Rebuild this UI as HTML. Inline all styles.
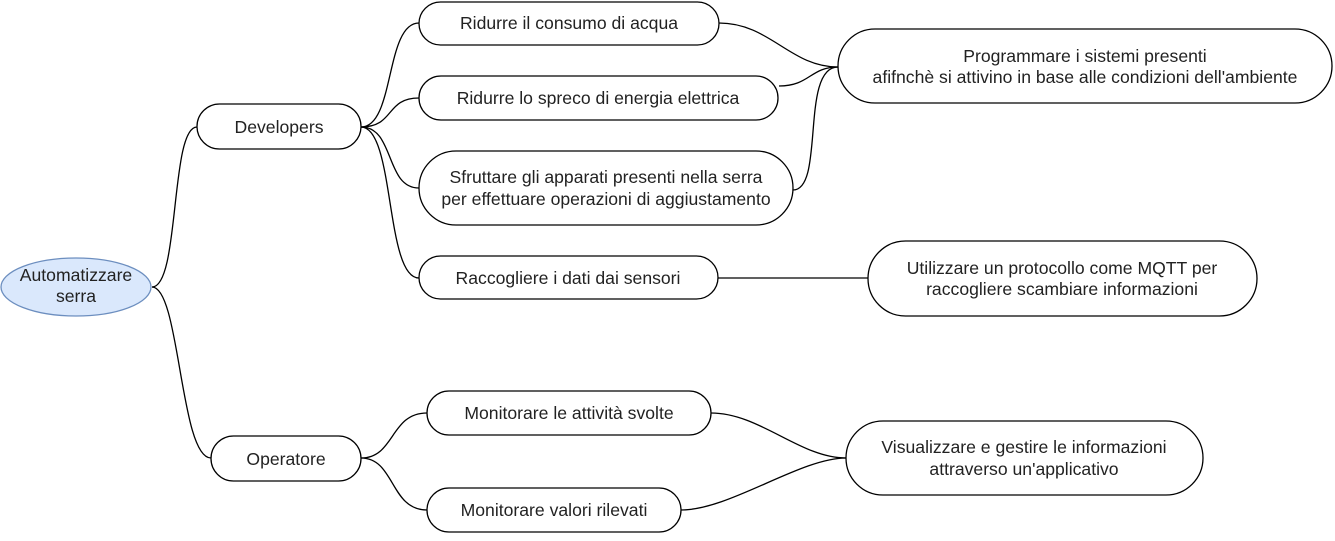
<!DOCTYPE html>
<html><head><meta charset="utf-8"><style>
body{margin:0;background:#fff}
svg text{font-family:"Liberation Sans",Arial,sans-serif;font-size:17.6px;fill:#222;text-anchor:middle}
</style></head><body>
<svg width="1335" height="536" viewBox="0 0 1335 536" xmlns="http://www.w3.org/2000/svg">
<g fill="none" stroke="#000" stroke-width="1.3">
<path d="M152,287 C180,287 170,127 197,127"/>
<path d="M152,287 C180,287 180,458 211,458"/>
<path d="M361,127 C395,127 385,23 419,23"/>
<path d="M361,127 C395,127 385,98 419,98"/>
<path d="M361,127 C395,127 385,188 419,188"/>
<path d="M361,127 C395,127 385,278 419,278"/>
<path d="M361,458 C395,458 390,413 427,413"/>
<path d="M361,458 C395,458 390,510 427,510"/>
<path d="M719,23 C770,23 790,67 838,67"/>
<path d="M779,86 C810,86 810,67 838,67"/>
<path d="M793,190 C825,190 800,67 838,67"/>
<path d="M718,278 L868,278"/>
<path d="M711,413 C760,413 800,458 846,458"/>
<path d="M681,510 C730,510 800,458 846,458"/>
</g>
<g fill="#fff" stroke="#000" stroke-width="1.3">
<ellipse cx="76" cy="287" rx="75" ry="29" fill="#dae8fc" stroke="#6c8ebf"/>
<rect x="197" y="104" width="164" height="45" rx="22.5"/>
<rect x="211" y="436" width="150" height="45" rx="22.5"/>
<rect x="419" y="2" width="300" height="43" rx="21.5"/>
<rect x="419" y="76" width="359" height="44" rx="22"/>
<rect x="419" y="151" width="374" height="74" rx="37"/>
<rect x="419" y="256" width="299" height="43" rx="21.5"/>
<rect x="838" y="29" width="494" height="74" rx="37"/>
<rect x="868" y="241" width="389" height="75" rx="37.5"/>
<rect x="427" y="391" width="284" height="44" rx="22"/>
<rect x="427" y="488" width="254" height="44" rx="22"/>
<rect x="846" y="421" width="357" height="74" rx="37"/>
</g>
<text x="76" y="281">Automatizzare</text><text x="76" y="302">serra</text>
<text x="279" y="133">Developers</text>
<text x="286" y="465">Operatore</text>
<text x="569" y="29">Ridurre il consumo di acqua</text>
<text x="598" y="104">Ridurre lo spreco di energia elettrica</text>
<text x="606" y="183">Sfruttare gli apparati presenti nella serra</text>
<text x="606" y="205">per effettuare operazioni di aggiustamento</text>
<text x="568" y="284">Raccogliere i dati dai sensori</text>
<text x="1085" y="62">Programmare i sistemi presenti</text>
<text x="1085" y="83">afifnchè si attivino in base alle condizioni dell'ambiente</text>
<text x="1062" y="274">Utilizzare un protocollo come MQTT per</text>
<text x="1062" y="295">raccogliere scambiare informazioni</text>
<text x="569" y="419">Monitorare le attività svolte</text>
<text x="554" y="516">Monitorare valori rilevati</text>
<text x="1024" y="453">Visualizzare e gestire le informazioni</text>
<text x="1024" y="475">attraverso un'applicativo</text>
</svg>
</body></html>
